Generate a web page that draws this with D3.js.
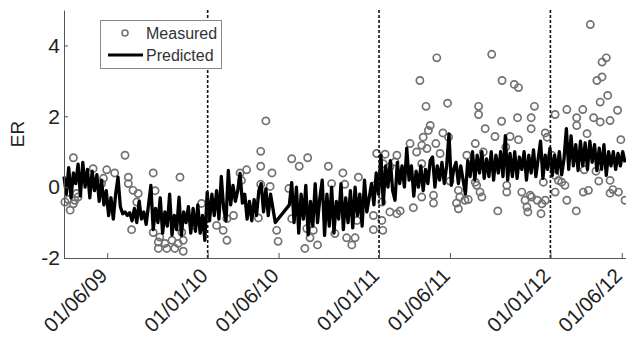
<!DOCTYPE html>
<html><head><meta charset="utf-8">
<script src="https://cdn.jsdelivr.net/npm/d3@7"></script>
<style>
html,body{margin:0;padding:0;background:#fff;}
svg{display:block;font-family:"Liberation Sans",Arial,Helvetica,sans-serif;}
</style>
</head><body>
<svg id="chart" width="626" height="341"></svg>
<script>
// ---------------- data ----------------
const startDate = "2009-03-01";
const endDate = "2012-06-10";
const yLabel = "ER";
const yTicks = [-2, 0, 2, 4];
const xTickDates = ["2009-06-01","2010-01-01","2010-06-01","2011-01-01","2011-06-01","2012-01-01","2012-06-01"];
const xTickLabels = ["01/06/09","01/01/10","01/06/10","01/01/11","01/06/11","01/01/12","01/06/12"];
const yearMarks = ["2010-01-01","2011-01-01","2012-01-01"];
const seriesNames = ["Measured","Predicted"];

// predicted: one value every predStep days from startDate (null = no data)
const predStep = 5;
const predicted = [
 0.3,-0.2,0.55,-0.3,0.4,0.1,0.65,-0.25,0.7,0.0,
 0.5,-0.3,0.45,-0.1,0.35,-0.4,0.2,-0.5,-0.1,-0.8,
 -0.3,-0.9,-0.2,0.28,-0.55,-0.75,-0.7,-0.8,-0.72,-0.95,
 -0.6,-1.0,-0.4,-0.9,-0.7,-1.05,-0.5,0.05,-1.2,-0.6,
 -1.0,-0.3,-1.3,-0.7,-1.1,-0.2,-1.35,-0.8,-1.2,-0.28,
 -1.36,-0.7,-1.0,-0.55,-1.3,-0.6,-1.25,-0.5,-1.3,-0.8,
 -1.5,-0.15,-0.95,-0.2,-0.8,-0.1,-0.9,0.3,-0.6,-0.95,
 0.47,-0.5,0.05,-0.4,-0.1,0.39,-0.45,-0.2,-0.9,-0.4,
 -0.95,-0.35,-0.8,-0.1,0.1,-0.7,-0.05,-0.8,-0.2,-0.6,
 -1.0,null,null,null,null,null,-0.5,0.13,-1.0,0.0,
 -1.3,-0.2,-0.9,0.05,-1.35,-0.4,-1.1,0.1,-1.0,-0.3,
 0.2,-1.36,-0.2,-1.1,0.0,-1.3,-0.4,-0.9,0.1,-1.2,
 -0.3,-1.0,-0.1,-1.15,0.0,-0.8,-0.2,-1.1,0.2,-0.7,
 -0.3,0.1,-0.5,0.4,-0.2,0.9,-0.47,0.6,0.0,0.75,
 -0.1,-0.37,0.7,0.1,0.6,0.0,1.1,0.2,0.6,-0.25,
 0.45,0.0,0.6,-0.1,0.5,0.1,0.75,0.85,0.0,0.6,
 0.2,0.7,0.1,0.6,1.5,0.05,0.5,0.7,0.1,0.6,
 0.2,-0.2,0.75,0.3,1.0,0.2,0.9,0.4,1.0,0.25,
 0.8,0.3,1.0,0.2,0.9,0.4,1.0,0.3,1.45,0.2,
 0.95,0.3,1.0,0.25,0.85,0.5,1.0,0.2,0.9,0.4,
 1.05,0.3,0.8,1.3,0.25,0.9,0.5,1.1,0.33,0.9,
 0.4,1.0,0.35,0.8,1.65,0.5,1.45,0.6,1.2,0.47,
 1.3,0.6,1.25,0.5,1.3,0.7,1.2,0.47,1.1,0.5,
 1.2,0.33,1.0,0.6,1.0,0.5,0.95,0.6,1.0,0.7
];

// measured: day offset from startDate and value
const measuredDay = [
 2,9,13,20,20,23,27,30,62,80,
 84,91,108,130,137,137,144,147,155,158,
 190,194,190,201,201,204,215,219,230,236,
 243,247,251,254,254,275,293,325,339,347,
 347,361,375,378,389,414,419,419,419,430,
 439,443,453,456,479,485,485,501,513,517,
 519,524,531,540,563,570,577,594,598,602,
 613,620,624,627,659,659,679,662,666,677,
 677,680,684,694,694,709,709,705,716,737,
 744,751,758,762,762,762,765,771,773,776,
 780,787,787,792,794,801,807,817,819,822,
 836,840,840,843,854,858,861,876,876,879,
 883,883,886,890,893,897,911,918,924,932,
 933,941,943,943,950,959,966,968,968,975,
 982,986,988,995,995,996,1002,1008,1016,1018,
 1021,1025,1029,1025,993,1039,1046,1046,1046,1053,
 1060,1067,1071,1071,1091,1092,1092,1105,1106,1108,
 1114,1117,1121,1128,1133,1135,1139,1142,1142,1146,
 1146,1155,1158,1163,1163,1163,1169,1179,1181,1186,
 1195
];
const measuredValue = [
 -0.42,-0.35,-0.65,0.83,-0.47,-0.37,-0.18,-0.28,0.52,0.10,
 0.25,0.49,0.40,0.90,0.28,0.10,-1.20,-0.09,-0.42,-0.18,
 0.40,-0.10,-1.28,-1.55,-1.73,-1.41,-1.59,-1.73,-1.50,-1.73,
 -1.59,0.28,-1.27,-1.50,-1.81,-1.08,-0.46,-1.08,-1.22,-0.89,
 -1.50,-0.80,0.40,0.19,0.49,-0.87,1.01,0.59,0.08,1.87,
 0.02,0.40,-1.22,-1.53,-0.04,0.80,-0.89,0.59,-1.73,-1.17,
 0.83,-1.43,-1.22,-1.63,0.59,0.10,-1.31,0.40,0.08,-1.43,
 -1.63,-1.43,-0.94,0.28,-0.80,-1.20,-1.22,0.05,0.95,-0.42,
 -0.94,0.66,0.93,0.57,-0.70,-0.75,0.90,0.71,-0.67,1.23,
 -0.58,0.99,3.01,1.18,0.66,-0.28,1.41,2.28,1.09,1.60,
 1.74,-0.23,-0.45,1.23,3.65,0.95,1.53,2.37,1.41,0.17,
 -0.45,-0.09,-0.61,-0.28,-0.37,0.90,-0.35,1.23,0.14,0.05,
 2.28,2.05,-0.14,-0.28,0.99,1.65,3.75,1.43,-0.67,1.86,
 3.01,1.13,0.05,-0.14,1.43,2.90,1.96,2.81,1.34,-0.14,
 -0.37,-0.56,-0.70,1.96,1.65,-0.28,2.28,-0.37,-0.75,-0.47,
 0.14,1.53,1.41,-0.37,-0.23,0.90,2.05,0.33,-0.14,0.19,
 0.14,0.05,2.19,-0.37,-0.67,1.96,1.74,2.19,-0.14,0.49,
 1.51,-0.09,4.59,1.96,0.45,3.01,0.17,2.40,1.84,3.53,
 3.11,3.65,2.59,1.88,0.19,-0.17,-0.07,2.17,-0.14,1.34,
 -0.37
];

// ---------------- drawing ----------------
const parse = d3.utcParse("%Y-%m-%d");
const t0 = parse(startDate);
const dayToDate = d => d3.utcDay.offset(t0, d);

const plot = {left: 64, right: 626, top: 10, bottom: 258};
const x = d3.scaleUtc().domain([t0, parse(endDate)]).range([plot.left, plot.right]);
const y = d3.scaleLinear().domain([-2, 5]).range([plot.bottom, plot.top]);

const svg = d3.select("#chart");

// measured circles
const measured = measuredDay.map((d, i) => ({date: dayToDate(d), value: measuredValue[i]}));
svg.append("g").selectAll("circle").data(measured).join("circle")
  .attr("cx", d => x(d.date)).attr("cy", d => y(d.value)).attr("r", 3.6)
  .attr("fill", "none").attr("stroke", "#727272").attr("stroke-width", 1.7);

// predicted line
const predData = predicted.map((v, i) => ({date: dayToDate(i * predStep), value: v})).filter(d => d.value !== null);
svg.append("path").datum(predData)
  .attr("fill", "none").attr("stroke", "#000").attr("stroke-width", 3.3)
  .attr("stroke-linejoin", "round")
  .attr("d", d3.line().x(d => x(d.date)).y(d => y(d.value)));

// year separators
svg.append("g").selectAll("line").data(yearMarks.map(parse)).join("line")
  .attr("x1", d => x(d)).attr("x2", d => x(d))
  .attr("y1", plot.top).attr("y2", plot.bottom)
  .attr("stroke", "#111").attr("stroke-width", 1.6).attr("stroke-dasharray", "3,2");

// axes
const yAxis = svg.append("g").attr("transform", `translate(${plot.left},0)`)
  .call(d3.axisLeft(y).tickValues(yTicks).tickSizeInner(-4).tickSizeOuter(0).tickPadding(4).tickFormat(d3.format("d")));
yAxis.select(".domain").attr("stroke", "#555");
yAxis.selectAll(".tick line").attr("stroke", "#555");
yAxis.selectAll("text").attr("font-size", 21).attr("fill", "#222")
  .attr("font-family", "'Liberation Sans',Arial,sans-serif").text(d => d < 0 ? "-" + Math.abs(d) : d);

const xAxis = svg.append("g").attr("transform", `translate(0,${plot.bottom})`)
  .call(d3.axisBottom(x).tickValues(xTickDates.map(parse)).tickSizeInner(-5).tickSizeOuter(0)
    .tickFormat((d, i) => xTickLabels[i]));
xAxis.select(".domain").attr("stroke", "#555");
xAxis.selectAll(".tick line").attr("stroke", "#555");
xAxis.selectAll("text").attr("font-size", 20.5).attr("fill", "#222")
  .attr("font-family", "'Liberation Sans',Arial,sans-serif")
  .attr("x", 0).attr("y", 0).attr("dy", 0)
  .attr("text-anchor", "end")
  .attr("transform", "translate(1,19) rotate(-45)");

// y label
svg.append("text").text(yLabel)
  .attr("transform", `translate(24,${(plot.top + plot.bottom) / 2}) rotate(-90)`)
  .attr("text-anchor", "middle").attr("font-size", 19).attr("fill", "#222");

// legend
const lg = svg.append("g");
lg.append("rect").attr("x", 100.5).attr("y", 20.5).attr("width", 121).attr("height", 48)
  .attr("fill", "#fff").attr("stroke", "#888").attr("stroke-width", 1);
lg.append("circle").attr("cx", 125).attr("cy", 33).attr("r", 3.0)
  .attr("fill", "none").attr("stroke", "#727272").attr("stroke-width", 1.6);
lg.append("line").attr("x1", 108).attr("x2", 143).attr("y1", 55).attr("y2", 55)
  .attr("stroke", "#000").attr("stroke-width", 3);
lg.selectAll("text").data(seriesNames).join("text")
  .attr("x", 146).attr("y", (d, i) => 39 + i * 22)
  .attr("font-size", 16).attr("fill", "#333").text(d => d);
</script>
</body></html>
